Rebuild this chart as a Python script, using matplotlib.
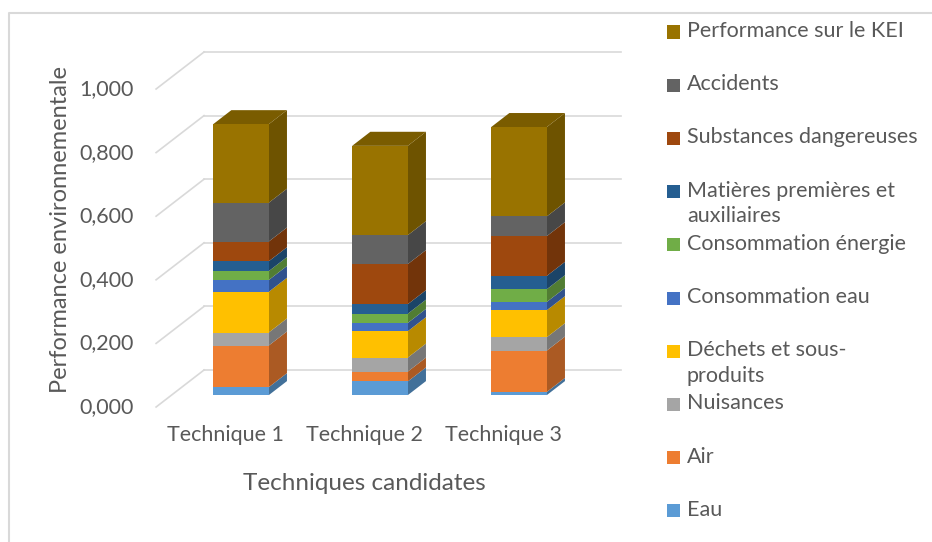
import numpy as np
from matplotlib import pyplot as plt
from matplotlib.patches import Polygon, Rectangle
from matplotlib.lines import Line2D
from matplotlib import colors as mcolors

plt.rcParams['font.family'] = ['Lato', 'DejaVu Sans']

categories = ['Technique 1', 'Technique 2', 'Technique 3']
series_names = [
    'Eau',
    'Air',
    'Nuisances',
    'Déchets et sous-\nproduits',
    'Consommation eau',
    'Consommation énergie',
    'Matières premières et\nauxiliaires',
    'Substances dangereuses',
    'Accidents',
    'Performance sur le KEI',
]
eau = [0.025, 0.043, 0.010]
air = [0.131, 0.031, 0.130]
nuisances = [0.041, 0.044, 0.042]
dechets = [0.128, 0.083, 0.085]
conso_eau = [0.037, 0.026, 0.026]
conso_energie = [0.028, 0.029, 0.040]
matieres = [0.031, 0.030, 0.042]
substances = [0.062, 0.126, 0.125]
accidents = [0.122, 0.091, 0.062]
kei = [0.247, 0.281, 0.281]
series_values = [eau, air, nuisances, dechets, conso_eau, conso_energie,
                 matieres, substances, accidents, kei]
series_colors = ['#5B9BD5', '#ED7D31', '#A5A5A5', '#FFC000', '#4472C4',
                 '#70AD47', '#255E91', '#9E480E', '#636363', '#997300']
y_ticks = np.arange(0, 1.01, 0.2)

text_color = '#595959'
grid_color = '#D9D9D9'

# oblique "3D" geometry, in data units
depth_dx, depth_dy = 0.345, 0.1164   # full floor depth offset
bar_front, bar_depth = 0.32, 0.38    # fraction of floor depth
bar_width = 0.4
floor_left, floor_right = -0.5, 2.5


def shade(color, factor):
    rgb = np.array(mcolors.to_rgb(color))
    return tuple(rgb * factor)


fig = plt.figure(figsize=(9.32, 5.42), dpi=100)
ax = fig.add_axes([0, 0, 1, 1])
ax.set_xlim(-1.623, 5.082)
ax.set_ylim(-0.4245, 1.2799)
ax.axis('off')

# chart border (top and left visible)
fig.add_artist(Line2D([9 / 932, 9 / 932, 1.0], [0, 1 - 13 / 542, 1 - 13 / 542],
                      color=grid_color, lw=1.5))

# walls: back gridlines and left side diagonals
for v in y_ticks:
    ax.plot([floor_left + depth_dx, floor_right + depth_dx],
            [v + depth_dy, v + depth_dy], color=grid_color, lw=1.2, zorder=1)
    ax.plot([floor_left, floor_left + depth_dx],
            [v, v + depth_dy], color=grid_color, lw=1.2, zorder=1)
    ax.text(floor_left - 0.16, v, format(v, '.3f').replace('.', ','),
            ha='right', va='center', fontsize=15.5, color=text_color)

# bars
fx = bar_front * depth_dx
fy = bar_front * depth_dy
bdx = bar_depth * depth_dx
bdy = bar_depth * depth_dy
x = np.arange(len(categories))
bottoms = np.zeros(len(categories))
for vals, color in zip(series_values, series_colors):
    vals = np.array(vals)
    ax.bar(x + fx, vals, bottom=bottoms + fy, width=bar_width,
           color=color, zorder=3, linewidth=0)
    for i in range(len(categories)):
        xr = x[i] + fx + bar_width / 2
        y0 = bottoms[i] + fy
        y1 = y0 + vals[i]
        ax.add_patch(Polygon([(xr, y0), (xr + bdx, y0 + bdy),
                              (xr + bdx, y1 + bdy), (xr, y1)],
                             closed=True, facecolor=shade(color, 0.72),
                             edgecolor='none', zorder=2.5))
    bottoms = bottoms + vals

top_color = shade(series_colors[-1], 0.8)
for i in range(len(categories)):
    xl = x[i] + fx - bar_width / 2
    xr = x[i] + fx + bar_width / 2
    yt = bottoms[i] + fy
    ax.add_patch(Polygon([(xl, yt), (xl + bdx, yt + bdy),
                          (xr + bdx, yt + bdy), (xr, yt)],
                         closed=True, facecolor=top_color,
                         edgecolor='none', zorder=2.6))

for i, cat in enumerate(categories):
    ax.text(i, -0.088, cat, ha='center', va='center', fontsize=15.5,
            color=text_color)

ax.text(1, -0.242, 'Techniques candidates', ha='center', va='center',
        fontsize=17.5, color=text_color)
ax.text(-1.19, 0.557, 'Performance environnementale', ha='center',
        va='center', rotation=90, fontsize=17, color=text_color)

# legend, reversed order, evenly spaced
W, H = 932, 542
for k, (name, color) in enumerate(zip(series_names[::-1], series_colors[::-1])):
    yc = 32 + k * 53.2
    fig.add_artist(Rectangle((667 / W, 1 - (yc + 6.5) / H), 13 / W, 13 / H,
                             facecolor=color, edgecolor='none',
                             transform=fig.transFigure))
    fig.text(687 / W, 1 - (yc - 11) / H, name, ha='left', va='top',
             fontsize=15.5, color=text_color, linespacing=1.35)

fig.savefig('out.png', dpi=100)
